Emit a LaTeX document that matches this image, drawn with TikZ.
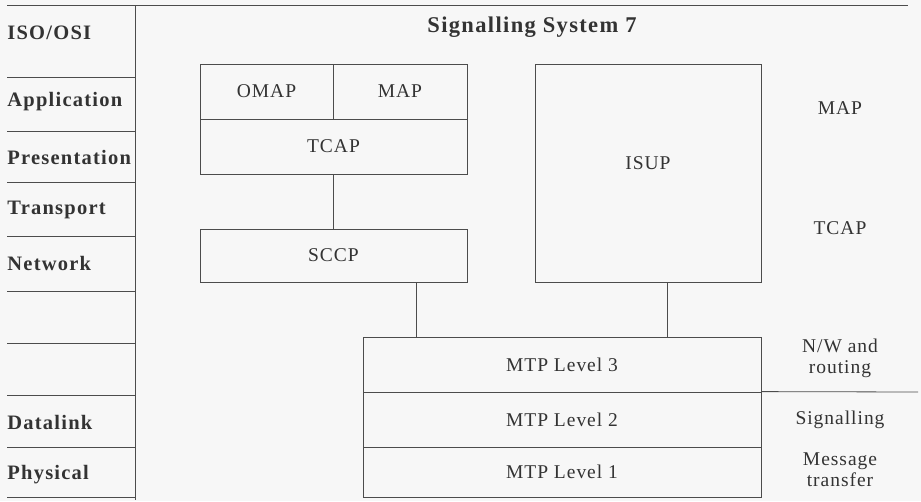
\documentclass[tikz,border=0pt]{standalone}
\usepackage{fontspec}
\setmainfont{Liberation Serif}
\usetikzlibrary{positioning}

\begin{document}
\begin{tikzpicture}[x=1pt, y=-1pt, line width=0.8pt,
  every node/.style={text=black!80, font=\fontsize{19.5}{21}\selectfont\addfontfeature{LetterSpace=5}},
  box/.style={draw=black!70, inner sep=0pt},
  layer/.style={anchor=west, inner sep=0pt, font=\fontsize{20.5}{22}\selectfont\bfseries\addfontfeature{LetterSpace=6}},
  note/.style={align=center}]
\fill[black!3] (0,0) rectangle (921,501);
\useasboundingbox (0,0) rectangle (921,501);
% ISO/OSI column
\draw[black!70] (7,5) -- (908,5);
\draw[black!70] (135,5) -- (135,500);
\foreach \y in {77,131,182,236,291,343,395,447,497}
  \draw[black!70] (7,\y) -- (135,\y);
\node[layer] (iso) at (7,33) {ISO/OSI};
\node[layer] (appl) at (7,102) {Application};
\node[layer] (pres) at (7,157) {Presentation};
\node[layer] (trans) at (7,210) {Transport};
\node[layer] (netw) at (7,263) {Network};
\node[layer] (dlink) at (7,422) {Datalink};
\node[layer] (phys) at (7,475) {Physical};
\node[font=\fontsize{22.5}{24}\selectfont\bfseries\addfontfeature{LetterSpace=6}] (ss7) at (532,27) {Signalling System 7};
% SS7 stack
\node[box, minimum width=133pt, minimum height=55pt] (omap) at (266.5,91.5) {OMAP};
\node[box, minimum width=134pt, minimum height=55pt] (map) at (400,91.5) {MAP};
\node[box, minimum width=267pt, minimum height=55pt] (tcap) at (333.5,146.5) {TCAP};
\node[box, minimum width=267pt, minimum height=53pt] (sccp) at (333.5,255.5) {SCCP};
\node[box, minimum width=226pt, minimum height=218pt, label={[yshift=10pt]center:ISUP}] (isup) at (648,173) {};
\node[box, minimum width=398pt, minimum height=55pt] (mtp3) at (562,364.5) {MTP Level 3};
\node[box, minimum width=398pt, minimum height=55pt] (mtp2) at (562,419.5) {MTP Level 2};
\node[box, minimum width=398pt, minimum height=50pt] (mtp1) at (562,472) {MTP Level 1};
\draw[black!70] (tcap.south) -- (sccp.north);
\draw[black!70] ([xshift=83pt]sccp.south) -- ([xshift=83pt]sccp.south |- mtp3.north);
\draw[black!70] ([xshift=19pt]isup.south) -- ([xshift=19pt]isup.south |- mtp3.north);
% functions on the right
\draw[black!70] (mtp2.north east) -- (918,392);
\node (mapr) at (840,108) {MAP};
\node (tcapr) at (840,228) {TCAP};
\node[note] (route) at (840,358) {N/W and\\ routing};
\node (sigr) at (840,420) {Signalling};
\node[note] (msgt) at (840,470) {Message\\ transfer};
\end{tikzpicture}
\end{document}
